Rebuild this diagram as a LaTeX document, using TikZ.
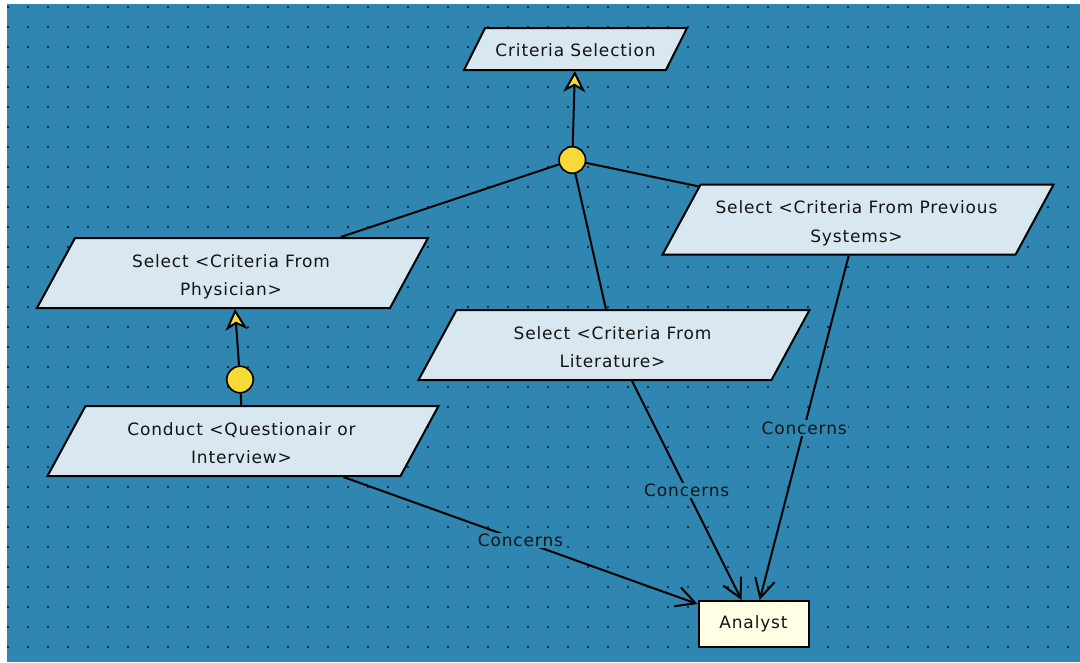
\documentclass[tikz,border=0pt]{standalone}
\usepackage{fontspec}
\setmainfont{DejaVu Sans}[LetterSpace=5]
\usetikzlibrary{shapes.geometric,arrows.meta}

\definecolor{canvas}{RGB}{47,134,176}
\definecolor{griddot}{RGB}{16,40,58}
\definecolor{stepfill}{RGB}{217,231,240}
\definecolor{actorfill}{RGB}{255,255,230}
\definecolor{joinfill}{RGB}{247,218,53}
\definecolor{inktext}{RGB}{20,20,20}

\tikzset{
  every node/.style={font=\fontsize{17}{28.5}\selectfont, text=inktext},
  % parallelogram steps: empty body of fixed height, text set as a centred label
  stepbox/.style={trapezium, trapezium left angle=61.5, trapezium right angle=118.5,
    trapezium stretches body=true, draw=black, line width=2pt, fill=stepfill,
    inner xsep=10pt, inner ysep=35pt, minimum width=391pt},
  goalbox/.style={stepbox, trapezium left angle=63.4, trapezium right angle=116.6,
    inner ysep=21pt, minimum width=223pt},
  steptext/.style={align=center, text depth=0pt, inner sep=0pt, yshift=-2pt, xshift=-1.5pt},
  actorbox/.style={rectangle, draw=black, line width=2pt, fill=actorfill,
    minimum width=110pt, minimum height=46pt, inner sep=2pt},
  joinpt/.style={circle, draw=black, line width=1.6pt, fill=joinfill,
    minimum size=26.5pt, inner sep=0pt},
  link/.style={draw=black, line width=2pt},
  refine/.style={link, -{Stealth[length=21pt, width=22pt, inset=6pt, fill=joinfill]}},
  concern/.style={link, -{Straight Barb[length=19pt, width=20pt]}},
  lbl/.style={fill=canvas, inner sep=1.5pt},
}

\begin{document}
\begin{tikzpicture}[x=1pt, y=-1pt]
  \useasboundingbox (0,0) rectangle (1080,662);
  \fill[white] (0,0) rectangle (1080,662);
  \fill[canvas] (7,4) rectangle (1080,662);

  % dotted grid, 20 pt spacing
  \foreach \i in {0,...,53}
    \foreach \j in {0,...,32}
      \fill[griddot] (7+20*\i, 5.7+20*\j) rectangle ++(2,2);

  % goal and steps
  \node[goalbox, label={[steptext, yshift=1pt, xshift=1.5pt]center:{Criteria Selection}}]
    (crit) at (575.5,49) {};
  \node[stepbox, label={[steptext]center:{Select <Criteria From\\Physician>}}]
    (phys) at (232.5,273) {};
  \node[stepbox, label={[steptext]center:{Conduct <Questionair or\\Interview>}}]
    (cond) at (243,441) {};
  \node[stepbox, label={[steptext]center:{Select <Criteria From\\Literature>}}]
    (lit) at (614,345) {};
  \node[stepbox, label={[steptext]center:{Select <Criteria From Previous\\Systems>}}]
    (prev) at (858,219.7) {};
  \node[actorbox] (ana) at (753.5,624) {Analyst};

  % decomposition joins
  \node[joinpt] (j1) at (572.3,160) {};
  \node[joinpt] (j2) at (240,379.5) {};

  \draw[link] (j1) -- (phys);
  \draw[link] (j1) -- (lit);
  \draw[link] (j1) -- (prev);
  \draw[refine] (j1) -- (crit);

  \draw[link] (j2) -- (cond);
  \draw[refine] (j2) -- (phys);

  % concerns links to the actor
  \draw[concern] (cond) -- node[lbl] {Concerns} (ana);
  \draw[concern] (lit)  -- node[lbl] {Concerns} (ana);
  \draw[concern] (prev) -- node[lbl] {Concerns} (ana);
\end{tikzpicture}
\end{document}
